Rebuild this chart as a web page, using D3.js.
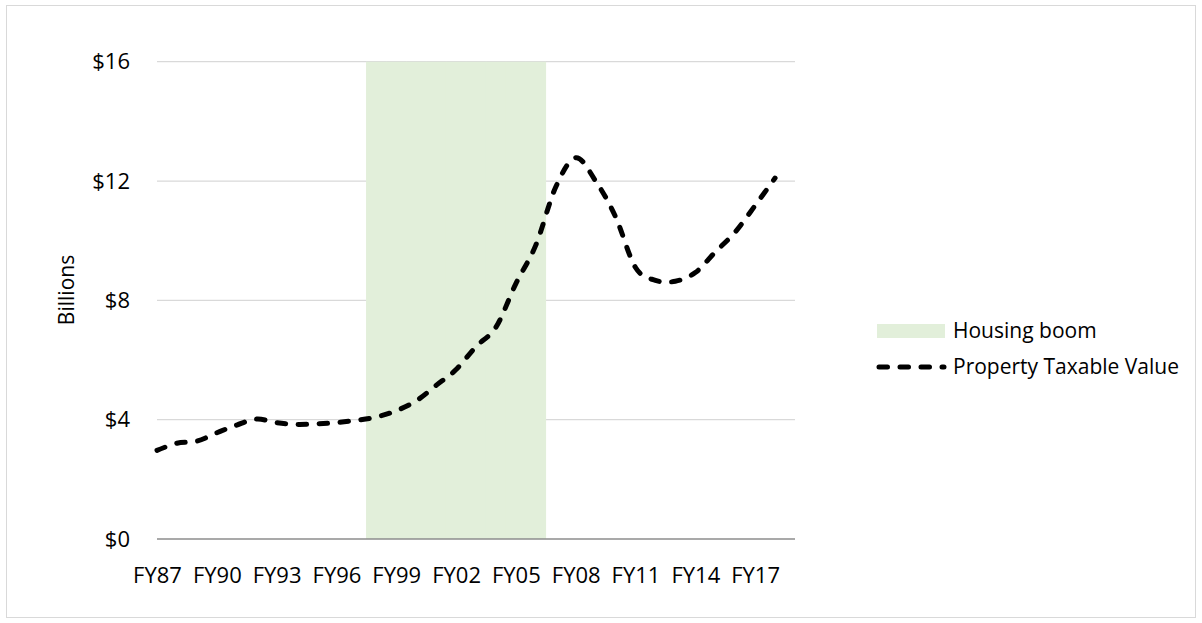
<!DOCTYPE html>
<html>
<head>
<meta charset="utf-8">
<script src="https://cdn.jsdelivr.net/npm/d3@7"></script>
<style>
  html, body { margin: 0; padding: 0; background: #fff; }
  svg { display: block; }
  text { font-family: "Open Sans", sans-serif; fill: #000; }
</style>
</head>
<body>
<svg id="chart" width="1202" height="623"></svg>
<script>
// ---- data ----
const categories = ["FY87","FY88","FY89","FY90","FY91","FY92","FY93","FY94","FY95","FY96",
  "FY97","FY98","FY99","FY00","FY01","FY02","FY03","FY04","FY05","FY06",
  "FY07","FY08","FY09","FY10","FY11","FY12","FY13","FY14","FY15","FY16",
  "FY17","FY18","FY19"];
const taxableValue = [2.97, 3.21, 3.28, 3.56, 3.82, 4.02, 3.90, 3.84, 3.86, 3.90,
  3.98, 4.09, 4.30, 4.63, 5.15, 5.68, 6.45, 7.10, 8.56, 9.85,
  11.80, 12.78, 12.00, 10.80, 9.10, 8.67, 8.64, 8.93, 9.62, 10.29,
  11.18, 12.10, null];
const boomCategories = ["FY98","FY99","FY00","FY01","FY02","FY03","FY04","FY05","FY06"];
const boomValue = 16;
const yTicks = [0, 4, 8, 12, 16];
const xTickLabels = ["FY87","FY90","FY93","FY96","FY99","FY02","FY05","FY08","FY11","FY14","FY17"];
const seriesNames = ["Housing boom", "Property Taxable Value"];

(function () {
// ---- layout ----
const svg = d3.select("#chart");
const plotLeft = 157, plotRight = 795, plotTop = 61.7, plotBottom = 539;
const axisFont = 22, legendFont = 21;

// chart border
svg.append("rect").attr("x", 6.5).attr("y", 5.5).attr("width", 1189).attr("height", 612)
  .attr("fill", "none").attr("stroke", "#d9d9d9").attr("stroke-width", 1);

const x = d3.scalePoint().domain(categories).range([plotLeft, plotRight]);
const step = x.step();
const y = d3.scaleLinear().domain([0, 16]).range([plotBottom, plotTop]);

// gridlines
svg.append("g").selectAll("line").data(yTicks.filter(d => d > 0)).join("line")
  .attr("x1", plotLeft).attr("x2", plotRight)
  .attr("y1", d => y(d)).attr("y2", d => y(d))
  .attr("stroke", "#d9d9d9").attr("stroke-width", 1.3);

// housing boom band (columns, no gap)
svg.append("g").selectAll("rect").data(boomCategories).join("rect")
  .attr("x", d => x(d) - step / 2 - 0.3)
  .attr("width", step + 0.6)
  .attr("y", y(boomValue))
  .attr("height", y(0) - y(boomValue))
  .attr("fill", "#e2efda");

// x axis line
svg.append("line").attr("x1", plotLeft).attr("x2", plotRight)
  .attr("y1", y(0)).attr("y2", y(0))
  .attr("stroke", "#8c8c8c").attr("stroke-width", 1.3);

// y tick labels
const yFmt = d => "$" + d;
svg.append("g").selectAll("text").data(yTicks).join("text")
  .attr("x", 130).attr("y", d => y(d)).attr("dy", "0.35em")
  .attr("text-anchor", "end").attr("font-size", axisFont)
  .text(yFmt);

// x tick labels via axis
const xAxis = d3.axisBottom(x).tickValues(xTickLabels).tickSize(0).tickPadding(0);
const gx = svg.append("g").attr("transform", `translate(0, ${y(0)})`).call(xAxis);
gx.select(".domain").remove();
gx.selectAll("text").attr("font-size", axisFont).attr("font-family", "Open Sans, sans-serif")
  .attr("fill", "#000").attr("y", 36).attr("dy", "0.35em");

// y axis title
svg.append("text").attr("transform", `translate(67, 290) rotate(-90)`)
  .attr("text-anchor", "middle").attr("dy", "0.35em").attr("font-size", legendFont)
  .text("Billions");

// line
const line = d3.line()
  .defined(d => d[1] != null)
  .x(d => x(d[0])).y(d => y(d[1]))
  .curve(d3.curveCardinal.tension(0));
svg.append("path")
  .datum(categories.map((c, i) => [c, taxableValue[i]]))
  .attr("d", line)
  .attr("fill", "none").attr("stroke", "#000").attr("stroke-width", 5)
  .attr("stroke-linecap", "round").attr("stroke-dasharray", "8.5,12.5");

// legend
const lg = svg.append("g");
lg.append("rect").attr("x", 877).attr("y", 324).attr("width", 68).attr("height", 14)
  .attr("fill", "#e2efda");
lg.append("text").attr("x", 953).attr("y", 331).attr("dy", "0.35em").attr("font-size", legendFont)
  .text(seriesNames[0]);
lg.append("line").attr("x1", 879).attr("x2", 944).attr("y1", 367).attr("y2", 367)
  .attr("stroke", "#000").attr("stroke-width", 5)
  .attr("stroke-linecap", "round").attr("stroke-dasharray", "8.5,12.5");
lg.append("text").attr("x", 953).attr("y", 367).attr("dy", "0.35em").attr("font-size", legendFont)
  .text(seriesNames[1]);
})();
</script>
</body>
</html>
